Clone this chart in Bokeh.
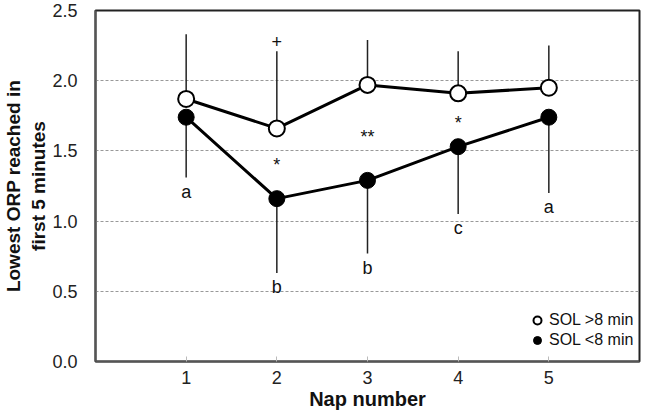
from bokeh.plotting import figure
from bokeh.models import Range1d, FixedTicker, NumeralTickFormatter, Legend, LegendItem
from bokeh.core.properties import value
from bokeh.embed import file_html
from bokeh.resources import INLINE

# ---- data ----
nap = [1, 2, 3, 4, 5]
sol_long = [1.87, 1.66, 1.97, 1.91, 1.95]          # SOL >8 min (open circles)
sol_long_upper = [2.33, 2.21, 2.29, 2.21, 2.25]    # upper error-bar ends
sol_short = [1.74, 1.16, 1.29, 1.53, 1.74]         # SOL <8 min (filled circles)
sol_short_lower = [1.31, 0.63, 0.77, 1.05, 1.20]   # lower error-bar ends
letters = ["a", "b", "b", "c", "a"]
sig_marks = ["+", "*", "**", "*"]
sig_x = [2, 2, 3, 4]
sig_y = [2.28, 1.40, 1.60, 1.70]
y_ticks = [0.0, 0.5, 1.0, 1.5, 2.0, 2.5]
grid_ticks = [0.5, 1.0, 1.5, 2.0]

FONT = "Liberation Sans"

p = figure(width=643, height=412, output_backend="svg", toolbar_location=None,
           x_range=Range1d(0, 6), y_range=Range1d(0, 2.5),
           min_border_left=70, min_border_right=4, min_border_top=10, min_border_bottom=50)

p.outline_line_color = "#222222"
p.outline_line_width = 2
p.background_fill_color = "white"
p.border_fill_color = "white"

# grid
p.xgrid.visible = False
p.ygrid.ticker = FixedTicker(ticks=grid_ticks)
p.ygrid.grid_line_color = "#999999"
p.ygrid.grid_line_dash = "3 2"
p.ygrid.grid_line_width = 1

# axes
p.xaxis.ticker = FixedTicker(ticks=nap)
p.yaxis.ticker = FixedTicker(ticks=y_ticks)
p.yaxis.formatter = NumeralTickFormatter(format="0.0")
for ax in (p.xaxis[0], p.yaxis[0]):
    ax.axis_line_color = "#555555"
    ax.axis_line_width = 2
    ax.major_label_text_font = FONT
    ax.major_label_text_font_size = "18px"
    ax.major_label_text_color = "#222222"
    ax.minor_tick_line_color = None
    ax.axis_label_text_font = FONT
    ax.axis_label_text_font_style = "bold"
    ax.axis_label_text_font_size = "20px"
    ax.axis_label_text_color = "#111111"
p.yaxis.major_tick_line_color = None
p.yaxis.major_label_standoff = 12
p.xaxis.major_tick_line_color = "#bbbbbb"
p.xaxis.major_tick_in = 5
p.xaxis.major_tick_out = 0
p.xaxis.major_label_standoff = 9
p.xaxis.axis_label = "Nap number"
p.xaxis.axis_label_standoff = 1
p.yaxis.axis_label = "Lowest ORP reached in\nfirst 5 minutes"
p.yaxis.axis_label_standoff = 0
p.yaxis.axis_label_text_font_size = "19px"

# error bars
p.segment(x0=nap, y0=sol_long, x1=nap, y1=sol_long_upper, line_color="#222222", line_width=1.5)
p.segment(x0=nap, y0=sol_short, x1=nap, y1=sol_short_lower, line_color="#222222", line_width=1.5)

# lines
p.line(nap, sol_long, line_color="black", line_width=3)
p.line(nap, sol_short, line_color="black", line_width=3)

# markers
r_open = p.scatter(nap, sol_long, size=16, marker="circle", fill_color="white",
                   line_color="black", line_width=2)
r_fill = p.scatter(nap, sol_short, size=16, marker="circle", fill_color="black",
                   line_color="black", line_width=1)

# letters below lower bars
letter_y = [v - 0.03 for v in sol_short_lower]
p.text(x=nap, y=letter_y, text=letters, text_align="center", text_baseline="top",
       text_font=value(FONT), text_font_size="18px", text_color="#111111")

# significance marks
p.text(x=sig_x, y=sig_y, text=sig_marks, text_align="center", text_baseline="middle",
       text_font=value(FONT), text_font_size="18px", text_color="#111111")

legend = Legend(items=[LegendItem(label="SOL >8 min", renderers=[r_open]),
                       LegendItem(label="SOL <8 min", renderers=[r_fill])],
                location=(432, 11))
legend.background_fill_alpha = 0
legend.border_line_color = None
legend.label_text_font = FONT
legend.label_text_font_size = "16px"
legend.label_text_color = "#111111"
legend.glyph_width = 20
legend.glyph_height = 20
legend.spacing = 0
legend.padding = 0
legend.margin = 0
legend.label_standoff = 2
p.add_layout(legend, "center")

open("out.html", "w").write(file_html(p, INLINE))
